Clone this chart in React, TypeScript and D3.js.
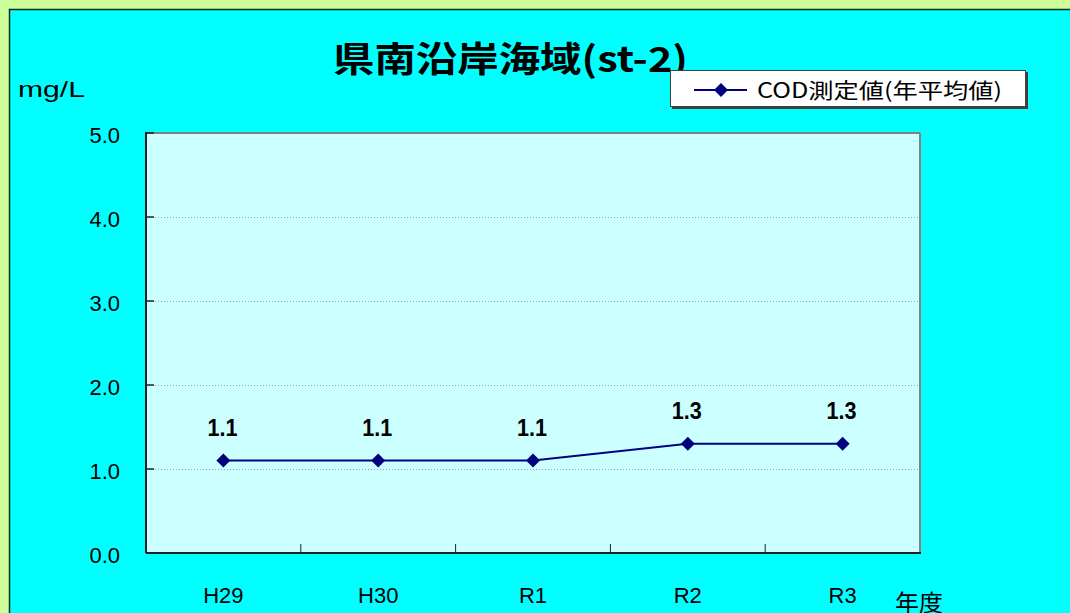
import React from "react";
import * as d3 from "d3";

const categories = ["H29", "H30", "R1", "R2", "R3"];
const codValues = [1.1, 1.1, 1.1, 1.3, 1.3];
const yTicks = [0, 1, 2, 3, 4, 5];
const titleText = "県南沿岸海域(st-2)";
const legendLabel = "COD測定値(年平均値)";
const yUnit = "mg/L";
const xAxisName = "年度";

const W = 1070;
const H = 613;
const plot = { left: 146, top: 133, right: 920, bottom: 553 };
const FONT = "'Liberation Sans', 'Noto Sans CJK JP', sans-serif";
const JFONT = "'Noto Sans CJK JP', 'Liberation Sans', sans-serif";

export default function App() {
  const x = d3.scaleBand<string>().domain(categories).range([plot.left, plot.right]).padding(0);
  const y = d3.scaleLinear().domain([0, 5]).range([plot.bottom, plot.top]);
  const cx = (c: string) => (x(c) as number) + x.bandwidth() / 2;
  const line = d3
    .line<number>()
    .x((_, i) => cx(categories[i]))
    .y((d) => y(d));
  const diamond = (px: number, py: number, r = 7) =>
    `M${px},${py - r}L${px + r},${py}L${px},${py + r}L${px - r},${py}Z`;

  const boundaries = categories.slice(1).map((c) => x(c) as number);

  return (
    <svg
      width={W}
      height={H}
      style={{ position: "absolute", left: 0, top: 0, display: "block" }}
    >
      <rect x={0} y={0} width={W} height={H} fill="#CCFF99" />
      <rect x={9.5} y={9.5} width={W + 10} height={H + 10} fill="#00FFFF" stroke="#0A2A2A" strokeWidth={1.5} />

      {/* plot area */}
      <rect
        x={plot.left}
        y={plot.top}
        width={plot.right - plot.left}
        height={plot.bottom - plot.top}
        fill="#CCFFFF"
      />
      {yTicks
        .filter((t) => t > 0 && t < 5)
        .map((t) => (
          <line
            key={"g" + t}
            x1={plot.left}
            x2={plot.right}
            y1={y(t) + 0.5}
            y2={y(t) + 0.5}
            stroke="#8AA8A8"
            strokeWidth={1}
            strokeDasharray="1,2"
          />
        ))}
      {/* top and right border gray */}
      <line x1={plot.left} x2={plot.right} y1={plot.top} y2={plot.top} stroke="#808080" strokeWidth={2} />
      <line x1={plot.right} x2={plot.right} y1={plot.top} y2={plot.bottom} stroke="#808080" strokeWidth={2} />
      {/* axes */}
      <line x1={plot.left} x2={plot.left} y1={plot.top - 1} y2={plot.bottom} stroke="#222" strokeWidth={2} />
      <line x1={plot.left} x2={plot.right + 1} y1={plot.bottom} y2={plot.bottom} stroke="#222" strokeWidth={2} />
      {yTicks.map((t) => (
        <g key={"yt" + t}>
          <line x1={plot.left} x2={plot.left + 8} y1={y(t)} y2={y(t)} stroke="#222" strokeWidth={1.5} />
          <text
            x={120}
            y={y(t) + 10}
            textAnchor="end"
            fontFamily={FONT}
            fontSize={22}
            fill="#000"
          >
            {t.toFixed(1)}
          </text>
        </g>
      ))}
      {boundaries.map((b, i) => (
        <line key={"xt" + i} x1={b} x2={b} y1={plot.bottom} y2={plot.bottom - 9} stroke="#222" strokeWidth={1} />
      ))}
      {categories.map((c) => (
        <text
          key={"xl" + c}
          x={cx(c)}
          y={603}
          textAnchor="middle"
          fontFamily={FONT}
          fontSize={22}
          fill="#000"
        >
          {c}
        </text>
      ))}
      <text x={895} y={611} fontFamily={JFONT} fontSize={23} textLength={48} lengthAdjust="spacingAndGlyphs" fill="#000">
        {xAxisName}
      </text>
      <text x={18} y={97} fontFamily={FONT} fontSize={22} textLength={67} lengthAdjust="spacingAndGlyphs" fill="#000">
        {yUnit}
      </text>

      {/* series */}
      <path d={line(codValues) || ""} fill="none" stroke="#000080" strokeWidth={2} />
      {codValues.map((v, i) => (
        <g key={"p" + i}>
          <path d={diamond(cx(categories[i]), y(v))} fill="#000080" />
          <text
            x={cx(categories[i]) - 16}
            y={y(v) - 24.5}
            fontFamily={FONT}
            fontWeight="bold"
            fontSize={24}
            textLength={30}
            lengthAdjust="spacingAndGlyphs"
            fill="#000"
          >
            {v.toFixed(1)}
          </text>
        </g>
      ))}

      {/* title */}
      <text
        x={333}
        y={72}
        fontFamily={JFONT}
        fontWeight="bold"
        fontSize={35}
        textLength={355}
        lengthAdjust="spacingAndGlyphs"
        fill="#000"
      >
        {titleText}
      </text>

      {/* legend */}
      <rect x={672} y={72} width={356} height={37} fill="#404040" />
      <rect x={670.5} y={70.5} width={355} height={36} fill="#FFFFFF" stroke="#404040" strokeWidth={1} />
      <line x1={694} x2={747} y1={90} y2={90} stroke="#000080" strokeWidth={2} />
      <path d={diamond(721, 90)} fill="#000080" />
      <text x={757} y={98} fontFamily={JFONT} fontSize={21} textLength={245} lengthAdjust="spacingAndGlyphs" fill="#000">
        {legendLabel}
      </text>
    </svg>
  );
}
